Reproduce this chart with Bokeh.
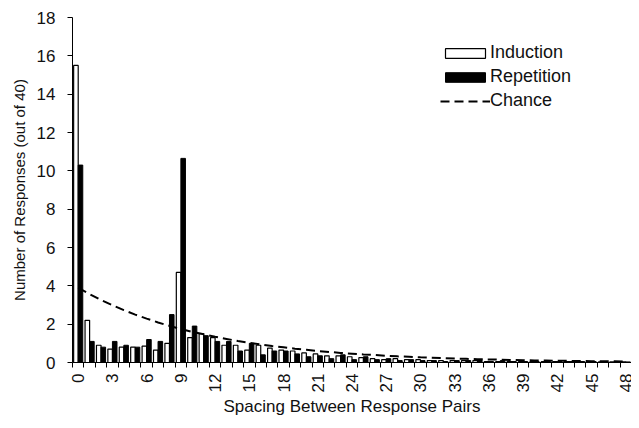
import math
from bokeh.plotting import figure
from bokeh.models import ColumnDataSource, FixedTicker, Legend, LegendItem, Range1d
from bokeh.transform import dodge
from bokeh.embed import file_html
from bokeh.resources import INLINE

spacing = list(range(49))
induction = [15.5, 2.2, 0.9, 0.7, 0.8, 0.8, 0.85, 0.65, 1.0, 4.7,
             1.3, 1.5, 1.3, 0.9, 0.9, 0.65, 0.9, 0.75, 0.65, 0.6,
             0.5, 0.45, 0.35, 0.35, 0.3, 0.25, 0.2, 0.15, 0.2, 0.15,
             0.15, 0.1, 0.1, 0.1, 0.1, 0.1, 0.05, 0.05, 0.05, 0.05,
             0.05, 0.05, 0.05, 0.05, 0.05, 0.05, 0.03, 0.03, 0.03]
repetition = [10.3, 1.1, 0.8, 1.1, 0.9, 0.8, 1.2, 1.1, 2.5, 10.65,
              1.9, 1.4, 1.1, 1.1, 0.6, 1.0, 0.4, 0.6, 0.6, 0.45,
              0.3, 0.35, 0.2, 0.4, 0.15, 0.3, 0.15, 0.2, 0.1, 0.15,
              0.1, 0.1, 0.05, 0.1, 0.1, 0.15, 0.05, 0.1, 0.05, 0.05,
              0.05, 0.05, 0.05, 0.05, 0.05, 0.05, 0.03, 0.03, 0.03]
chance = [3.9, 3.57, 3.26, 2.99, 2.73, 2.5, 2.29, 2.09, 1.91, 1.75,
          1.6, 1.47, 1.34, 1.23, 1.12, 1.03, 0.94, 0.86, 0.79, 0.72,
          0.66, 0.6, 0.55, 0.5, 0.46, 0.42, 0.39, 0.35, 0.32, 0.3,
          0.27, 0.25, 0.23, 0.21, 0.19, 0.17, 0.16, 0.15, 0.13, 0.12,
          0.11, 0.1, 0.09, 0.085, 0.08, 0.07, 0.065, 0.06, 0.055]
x_tick_labels = list(range(0, 49, 3))
y_ticks = list(range(0, 19, 2))

src = ColumnDataSource(dict(x=spacing, ind=induction, rep=repetition, ch=chance))

FONT = "Liberation Sans"

p = figure(width=631, height=420, output_backend="svg", toolbar_location=None,
           x_range=Range1d(-0.5, 48.5), y_range=Range1d(0, 18),
           min_border_left=72, min_border_top=17, min_border_right=0, min_border_bottom=58)
p.outline_line_color = None
p.xgrid.visible = False
p.ygrid.visible = False
p.background_fill_color = "white"

r_ind = p.vbar(x=dodge("x", -0.2), top="ind", width=0.4, source=src,
               fill_color="white", line_color="black", line_width=1.2)
r_rep = p.vbar(x=dodge("x", 0.2), top="rep", width=0.4, source=src,
               fill_color="black", line_color="black", line_width=1)
r_ch = p.line(x="x", y="ch", source=src, line_color="black", line_width=2, line_dash="9 5")

xa = p.xaxis[0]
xa.ticker = FixedTicker(ticks=x_tick_labels, minor_ticks=[i - 0.5 for i in range(50)])
xa.major_tick_out = 0
xa.major_tick_in = 0
xa.minor_tick_out = 5
xa.minor_tick_in = 0
xa.minor_tick_line_color = "black"
xa.major_label_orientation = math.pi / 2
xa.major_label_standoff = 6
xa.axis_label = "Spacing Between Response Pairs"
xa.axis_label_standoff = 2
xa.axis_label_text_font_size = "17px"

ya = p.yaxis[0]
ya.ticker = FixedTicker(ticks=y_ticks, minor_ticks=[])
ya.major_tick_out = 5
ya.major_tick_in = 0
ya.major_label_standoff = 12
ya.axis_label = "Number of Responses (out of 40)"
ya.axis_label_standoff = 6
ya.axis_label_text_font_size = "15px"

for ax in (xa, ya):
    ax.axis_line_color = "black"
    ax.major_tick_line_color = "black"
    ax.major_label_text_font = FONT
    ax.major_label_text_font_size = "17px"
    ax.major_label_text_color = "#111111"
    ax.axis_label_text_font = FONT
    ax.axis_label_text_font_style = "normal"
    ax.axis_label_text_color = "#111111"

legend = Legend(items=[LegendItem(label="Induction", renderers=[r_ind]),
                       LegendItem(label="Repetition", renderers=[r_rep]),
                       LegendItem(label="Chance", renderers=[r_ch])],
                location=(368, 251))
legend.glyph_width = 50
legend.glyph_height = 12
legend.label_height = 20
legend.spacing = 3
legend.padding = 0
legend.margin = 0
legend.label_standoff = 0
legend.border_line_color = None
legend.background_fill_alpha = 0
legend.label_text_font = FONT
legend.label_text_font_size = "18px"
legend.label_text_color = "#111111"
p.add_layout(legend)

open("out.html", "w").write(file_html(p, INLINE))
